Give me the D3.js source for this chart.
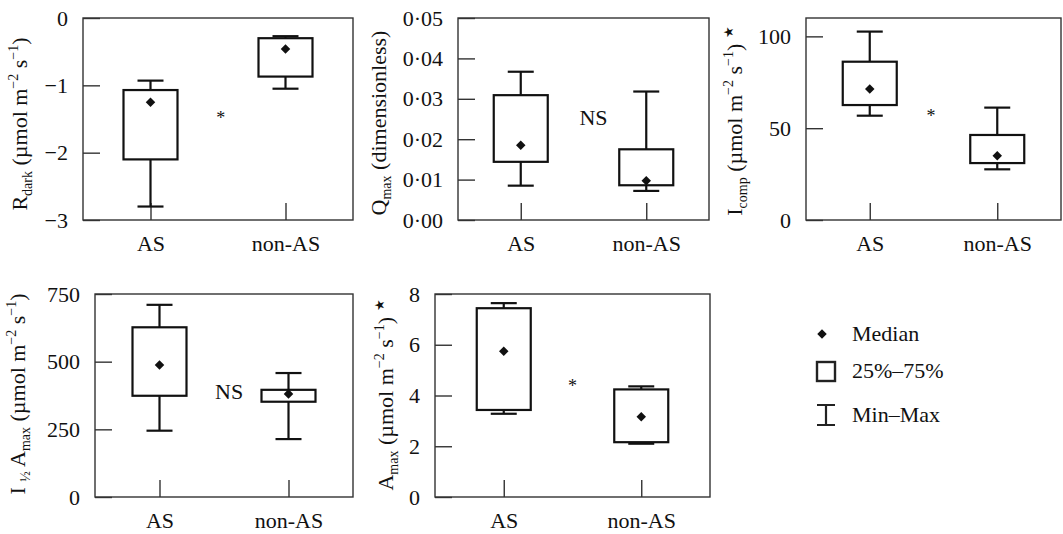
<!DOCTYPE html>
<html>
<head>
<meta charset="utf-8">
<script src="https://cdn.jsdelivr.net/npm/d3@7"></script>
<style>
body{margin:0;background:#fff;}
</style>
</head>
<body>
<svg id="chart" width="1063" height="534"></svg>
<script>
// Groups on the x axis of every panel.
var groups = ['AS', 'non-AS'];

// Five-number summaries [min, q1, median, q3, max].
var rdarkAS    = [-2.80, -2.10, -1.25, -1.07, -0.93];
var rdarkNonAS = [-1.05, -0.87, -0.46, -0.30, -0.27];
var qmaxAS     = [0.0085, 0.0144, 0.0185, 0.0309, 0.0367];
var qmaxNonAS  = [0.0072, 0.0086, 0.0097, 0.0175, 0.0318];
var icompAS    = [56.8, 62.6, 71.3, 86.2, 102.6];
var icompNonAS = [27.6, 31.0, 35.0, 46.3, 61.2];
var ihalfAS    = [245, 374, 488, 627, 710];
var ihalfNonAS = [214, 352, 381, 396, 458];
var amaxAS     = [3.28, 3.43, 5.74, 7.44, 7.64];
var amaxNonAS  = [2.10, 2.16, 3.16, 4.24, 4.36];

// Y tick values for each panel.
var rdarkTicks = [-3, -2, -1, 0];
var qmaxTicks  = [0, 0.01, 0.02, 0.03, 0.04, 0.05];
var icompTicks = [0, 50, 100];
var ihalfTicks = [0, 250, 500, 750];
var amaxTicks  = [0, 2, 4, 6, 8];

// Significance between AS and non-AS, one per panel.
var signif = ['*', 'NS', '*', 'NS', '*'];

var legendLabels = ['Median', '25%–75%', 'Min–Max'];

var FONT = '"Liberation Serif", "Times New Roman", serif';

var svg = d3.select('#chart').attr('font-family', FONT);
svg.append('rect').attr('width', 1063).attr('height', 534).attr('fill', '#fff');

var dotFmt = function(d){ return d3.format('.2f')(d).replace('.', '·'); };

//Panel layout: plot box [left, right, top, bottom], label offsets etc.
var panels = [
	{box:[83, 353, 18, 220], domain:[-3, 0], ticks:rdarkTicks, fmt:d3.format('d'),
	 data:[rdarkAS, rdarkNonAS], sig:signif[0], sigX:0.51, sigY:0.48, labelX:-56, labelY:124,
	 label:[['R',''],['dark','sub'],[' (µmol m',''],['−2','sup'],[' s',''],['−1','sup'],[')','']]},
	{box:[458, 709, 18, 220], domain:[0, 0.05], ticks:qmaxTicks, fmt:dotFmt,
	 data:[qmaxAS, qmaxNonAS], sig:signif[1], sigX:0.54, sigY:0.49, labelX:-72, labelY:123,
	 label:[['Q',''],['max','sub'],[' (dimensionless)','']]},
	{box:[806, 1061, 18, 220], domain:[0, 110], ticks:icompTicks, fmt:d3.format('d'),
	 data:[icompAS, icompNonAS], sig:signif[2], sigX:0.49, sigY:0.47, labelX:-64, labelY:121,
	 label:[['I',''],['comp','sub'],[' (µmol m',''],['−2','sup'],[' s',''],['−1','sup'],[') ',''],['★','star']]},
	{box:[95, 353, 294, 497], domain:[0, 750], ticks:ihalfTicks, fmt:d3.format('d'),
	 data:[ihalfAS, ihalfNonAS], sig:signif[3], sigX:0.52, sigY:0.48, labelX:-70, labelY:394,
	 label:[['I ',''],['½','sub'],[' A',''],['max','sub'],[' (µmol m',''],['−2','sup'],[' s',''],['−1','sup'],[')','']]},
	{box:[435, 710, 294, 497], domain:[0, 8], ticks:amaxTicks, fmt:d3.format('d'),
	 data:[amaxAS, amaxNonAS], sig:signif[4], sigX:0.5, sigY:0.44, labelX:-42, labelY:395,
	 label:[['A',''],['max','sub'],[' (µmol m',''],['−2','sup'],[' s',''],['−1','sup'],[') ',''],['★','star']]}
];

var boxW = 54, capW = 26;
var diamond = d3.symbol().type(d3.symbolDiamond2).size(58);

//Rotated axis title built from plain, sub and superscript pieces.
function addLabel(g, x, y, parts){
	var t = g.append('text')
		.attr('transform', 'translate(' + x + ',' + y + ') rotate(-90)')
		.attr('text-anchor', 'middle')
		.attr('font-size', 22);
	var shift = 0;
	parts.forEach(function(p){
		var s = t.append('tspan').text(p[0]);
		var target = p[1] === 'sub' ? 5 : (p[1] === 'sup' || p[1] === 'star') ? -9 : 0;
		s.attr('dy', target - shift);
		shift = target;
		if (p[1] === 'sub' || p[1] === 'sup') s.attr('font-size', 14);
		if (p[1] === 'star') s.attr('font-size', 13);
	});
}

panels.forEach(function(p){
	var left = p.box[0], right = p.box[1], top = p.box[2], bottom = p.box[3];
	var x = d3.scalePoint().domain(groups).range([left, right]).padding(0.5);
	var y = d3.scaleLinear().domain(p.domain).range([bottom, top]);
	var g = svg.append('g');

	//Axes with inward ticks, frame drawn separately.
	var yAxis = g.append('g').attr('transform', 'translate(' + left + ',0)')
		.call(d3.axisLeft(y).tickValues(p.ticks).tickFormat(p.fmt)
			.tickSizeInner(-17).tickSizeOuter(0).tickPadding(15));
	var xAxis = g.append('g').attr('transform', 'translate(0,' + bottom + ')')
		.call(d3.axisBottom(x).tickSizeInner(-17).tickSizeOuter(0).tickPadding(15));
	[yAxis, xAxis].forEach(function(a){
		a.attr('font-size', 22).attr('font-family', FONT);
		a.select('.domain').remove();
		a.selectAll('.tick line').attr('stroke', '#333').attr('stroke-width', 1.4);
		a.selectAll('.tick text').attr('fill', '#111');
	});

	g.append('rect')
		.attr('x', left).attr('y', top)
		.attr('width', right - left).attr('height', bottom - top)
		.attr('fill', 'none').attr('stroke', '#333').attr('stroke-width', 1.4);

	//Box plots.
	p.data.forEach(function(v, i){
		var cx = x(groups[i]);
		var bg = g.append('g').attr('stroke', '#111').attr('stroke-width', 2.2).attr('fill', 'none');
		bg.append('line').attr('x1', cx).attr('x2', cx).attr('y1', y(v[4])).attr('y2', y(v[3]));
		bg.append('line').attr('x1', cx).attr('x2', cx).attr('y1', y(v[1])).attr('y2', y(v[0]));
		bg.append('line').attr('x1', cx - capW / 2).attr('x2', cx + capW / 2).attr('y1', y(v[4])).attr('y2', y(v[4]));
		bg.append('line').attr('x1', cx - capW / 2).attr('x2', cx + capW / 2).attr('y1', y(v[0])).attr('y2', y(v[0]));
		bg.append('rect')
			.attr('x', cx - boxW / 2).attr('y', y(v[3]))
			.attr('width', boxW).attr('height', y(v[1]) - y(v[3]))
			.attr('fill', '#fff');
		g.append('path').attr('d', diamond)
			.attr('transform', 'translate(' + cx + ',' + y(v[2]) + ')')
			.attr('fill', '#111');
	});

	//Significance mark between the groups.
	var sx = left + (right - left) * p.sigX, sy = top + (bottom - top) * p.sigY;
	if (p.sig === 'NS') {
		g.append('text').attr('x', sx).attr('y', sy).attr('dy', '0.35em')
			.attr('text-anchor', 'middle').attr('font-size', 22).text(p.sig);
	} else {
		g.append('text').attr('x', sx).attr('y', sy).attr('dy', '0.5em')
			.attr('text-anchor', 'middle').attr('font-size', 18).text(p.sig);
	}

	addLabel(g, left + p.labelX, p.labelY, p.label);
});

//Legend.
var lg = svg.append('g');
var legendY = [334, 371, 415];
lg.append('path').attr('d', diamond).attr('transform', 'translate(822,' + legendY[0] + ')').attr('fill', '#111');
lg.append('rect').attr('x', 817).attr('y', legendY[1] - 9).attr('width', 18).attr('height', 19)
	.attr('fill', 'none').attr('stroke', '#222').attr('stroke-width', 2.4);
lg.append('path')
	.attr('d', 'M817,' + (legendY[2] - 10) + 'H835M826,' + (legendY[2] - 10) + 'V' + (legendY[2] + 10) + 'M817,' + (legendY[2] + 10) + 'H835')
	.attr('fill', 'none').attr('stroke', '#222').attr('stroke-width', 2.2);
lg.selectAll('text.leg').data(legendLabels).enter().append('text')
	.attr('class', 'leg')
	.attr('x', 852)
	.attr('y', function(d, i){ return legendY[i]; })
	.attr('dy', '0.32em')
	.attr('font-size', 22)
	.text(function(d){ return d; });

//Make sure every text uses the serif face and dark ink.
svg.selectAll('text').style('font-family', FONT).style('fill', '#111');
</script>
</body>
</html>
